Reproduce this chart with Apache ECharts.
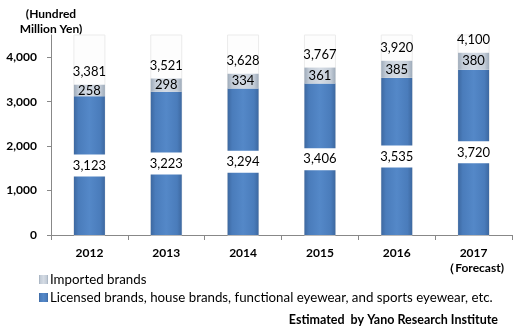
<!DOCTYPE html>
<html><head><meta charset="utf-8">
<script src="https://cdn.jsdelivr.net/npm/echarts@6/dist/echarts.min.js"></script>
<style>html,body{margin:0;padding:0;background:#fff}#c{width:513px;height:335px}</style>
</head><body><div id="c"></div>
<script>
const categories = ['2012', '2013', '2014', '2015', '2016', '2017\n（Forecast)'];
const licensed = [3123, 3223, 3294, 3406, 3535, 3720];
const imported = [258, 298, 334, 361, 385, 380];
const totals = [3381, 3521, 3628, 3767, 3920, 4100];
const yTicks = [0, 1000, 2000, 3000, 4000];
const nameImported = 'Imported brands';
const nameLicensed = 'Licensed brands, house brands, functional eyewear, and sports eyewear, etc.';

const FONT = 'Lato';
const fmt = v => v.toLocaleString('en-US');
const chart = echarts.init(document.getElementById('c'), null, {renderer: 'canvas'});
const blue = new echarts.graphic.LinearGradient(0, 0, 1, 0, [
  {offset: 0, color: '#3d68a0'}, {offset: 0.15, color: '#4a7cbb'},
  {offset: 0.5, color: '#5488c8'}, {offset: 0.85, color: '#4a7cbb'}, {offset: 1, color: '#3d68a0'}]);
const grey = new echarts.graphic.LinearGradient(0, 0, 1, 0, [
  {offset: 0, color: '#9eabba'}, {offset: 0.15, color: '#c3ccd7'},
  {offset: 0.5, color: '#d4dbe4'}, {offset: 0.85, color: '#c3ccd7'}, {offset: 1, color: '#9eabba'}]);

chart.setOption({
  animation: false,
  textStyle: {fontFamily: FONT},
  grid: {left: 51, right: 1, top: 35, bottom: 100, containLabel: false},
  graphic: [
    {type: 'text', x: 51, y: 7, style: {text: '(Hundred\nMillion Yen)', font: 'bold 12px ' + FONT, fill: '#000', align: 'center', lineHeight: 15}},
    {type: 'text', x: 498, y: 313, style: {text: 'Estimated  by Yano Research Institute', font: 'bold 12.5px ' + FONT, fill: '#000', align: 'right'}}
  ],
  legend: {
    data: [nameImported, nameLicensed],
    orient: 'vertical', left: 34, top: 268, itemWidth: 9, itemHeight: 9, itemGap: 5,
    icon: 'rect', selectedMode: false,
    textStyle: {fontFamily: FONT, fontSize: 13.3, color: '#000', padding: [0, 0, 0, -3]}
  },
  xAxis: {
    type: 'category', data: categories,
    axisLine: {lineStyle: {color: '#888', width: 1}},
    axisTick: {show: true, length: 5, lineStyle: {color: '#888'}},
    axisLabel: {color: '#000', fontWeight: 'bold', fontSize: 12, fontFamily: FONT, margin: 11, lineHeight: 15, interval: 0}
  },
  yAxis: {
    type: 'value', min: 0, max: 4500, interval: 500,
    splitLine: {show: false},
    axisLine: {show: true, lineStyle: {color: '#888'}},
    axisTick: {show: true, length: 4, lineStyle: {color: '#888'}, customValues: yTicks},
    axisLabel: {color: '#000', fontWeight: 'bold', fontSize: 12, fontFamily: FONT, margin: 14, customValues: yTicks, formatter: v => fmt(v)}
  },
  series: [
    {
      name: nameLicensed, type: 'bar', stack: 't', data: licensed, barWidth: 31,
      itemStyle: {color: blue},
      showBackground: true,
      backgroundStyle: {color: '#fdfdfd', borderColor: '#ebebeb', borderWidth: 1},
      label: {show: true, position: 'inside', formatter: p => fmt(p.value), color: '#000', fontSize: 13, fontFamily: FONT,
        backgroundColor: '#fff', padding: [5, 2, 4, 2]}
    },
    {
      name: nameImported, type: 'bar', stack: 't', data: imported, barWidth: 31,
      itemStyle: {color: grey},
      label: {show: true, position: 'inside', formatter: p => fmt(p.value), color: '#000', fontSize: 13, fontFamily: FONT}
    },
    {
      name: 'total', type: 'bar', stack: 't', data: totals.map(() => 0), barWidth: 31,
      itemStyle: {color: 'transparent'},
      label: {show: true, position: 'top', distance: 6, formatter: p => fmt(totals[p.dataIndex]), color: '#000', fontSize: 13, fontFamily: FONT}
    }
  ]
});
</script></body></html>
